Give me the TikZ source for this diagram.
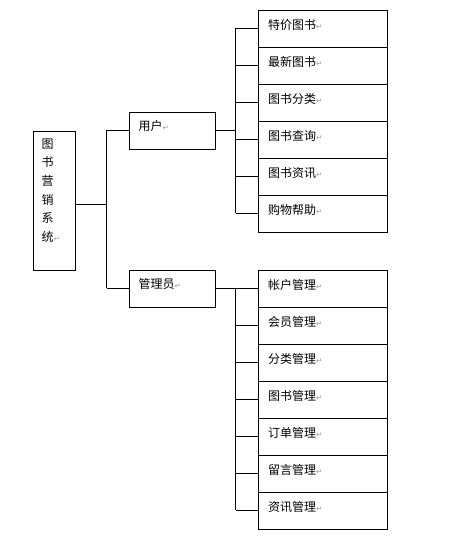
\documentclass[tikz,border=0pt]{standalone}
\usepackage{fontspec}
\newfontfamily\cjk{Noto Sans CJK SC}
\newfontfamily\symf{DejaVu Sans}
\newcommand{\pmark}{{\symf\fontsize{7.5}{7.5}\selectfont\textcolor{black!40}{↵}}}

\tikzset{
  box/.style={draw, line width=0.9pt, anchor=north west, inner sep=0pt},
  tag/.style={anchor=west, inner sep=0pt, font=\cjk\fontsize{12}{14}\selectfont},
  leaf/.style={box, minimum width=129pt, minimum height=37pt,
    label={[tag, xshift=10.5pt, yshift=-15.5pt]north west:#1}},
  mid/.style={box, minimum width=86pt, minimum height=37pt,
    label={[tag, xshift=10pt, yshift=-14.5pt]north west:#1}},
  link/.style={line width=0.9pt}
}

\begin{document}
\begin{tikzpicture}[x=1pt, y=-1pt]
    \useasboundingbox (0,0) rectangle (460,542);

    % 根节点
    \node[box, minimum width=42pt, minimum height=139pt,
      label={[anchor=north west, inner sep=0pt, align=left,
        font=\cjk\fontsize{12}{18.6}\selectfont, xshift=9pt, yshift=-8pt]north west:图\\书\\营\\销\\系\\统\pmark}] (root) at (32.5,130.5) {};

    % 第二层
    \node[mid=用户\pmark] (user) at (128.5,111.5) {};
    \node[mid=管理员\pmark] (admin) at (128.5,269.5) {};

    % 用户功能
    \node[leaf=特价图书\pmark] (u1) at (257.5,9.5) {};
    \node[leaf=最新图书\pmark] (u2) at (257.5,46.5) {};
    \node[leaf=图书分类\pmark] (u3) at (257.5,83.5) {};
    \node[leaf=图书查询\pmark] (u4) at (257.5,120.5) {};
    \node[leaf=图书资讯\pmark] (u5) at (257.5,157.5) {};
    \node[leaf=购物帮助\pmark] (u6) at (257.5,194.5) {};

    % 管理员功能
    \node[leaf=帐户管理\pmark] (a1) at (257.5,269.5) {};
    \node[leaf=会员管理\pmark] (a2) at (257.5,306.5) {};
    \node[leaf=分类管理\pmark] (a3) at (257.5,343.5) {};
    \node[leaf=图书管理\pmark] (a4) at (257.5,380.5) {};
    \node[leaf=订单管理\pmark] (a5) at (257.5,417.5) {};
    \node[leaf=留言管理\pmark] (a6) at (257.5,454.5) {};
    \node[leaf=资讯管理\pmark] (a7) at (257.5,491.5) {};

    % 连线的竖线位置
    \coordinate (hub) at (106.5,0);
    \coordinate (bar) at (235.5,0);
    \coordinate (rootout) at ([yshift=-4pt]root.east);

    % 根节点到第二层
    \draw[link] (rootout) -- (rootout -| hub);
    \draw[link] (user.west -| hub) -- (admin.west -| hub);
    \draw[link] (user.west -| hub) -- (user.west);
    \draw[link] (admin.west -| hub) -- (admin.west);

    % 用户到各功能
    \draw[link] (user.east) -- (user.east -| bar);
    \draw[link] (u1.west -| bar) -- (u6.west -| bar);
    \draw[link] (u1.west -| bar) -- (u1.west);
    \draw[link] (u2.west -| bar) -- (u2.west);
    \draw[link] (u3.west -| bar) -- (u3.west);
    \draw[link] (u4.west -| bar) -- (u4.west);
    \draw[link] (u5.west -| bar) -- (u5.west);
    \draw[link] (u6.west -| bar) -- (u6.west);

    % 管理员到各功能
    \draw[link] (admin.east) -- (admin.east -| bar);
    \draw[link] (a1.west -| bar) -- (a7.west -| bar);
    \draw[link] (a1.west -| bar) -- (a1.west);
    \draw[link] (a2.west -| bar) -- (a2.west);
    \draw[link] (a3.west -| bar) -- (a3.west);
    \draw[link] (a4.west -| bar) -- (a4.west);
    \draw[link] (a5.west -| bar) -- (a5.west);
    \draw[link] (a6.west -| bar) -- (a6.west);
    \draw[link] (a7.west -| bar) -- (a7.west);
\end{tikzpicture}
\end{document}
